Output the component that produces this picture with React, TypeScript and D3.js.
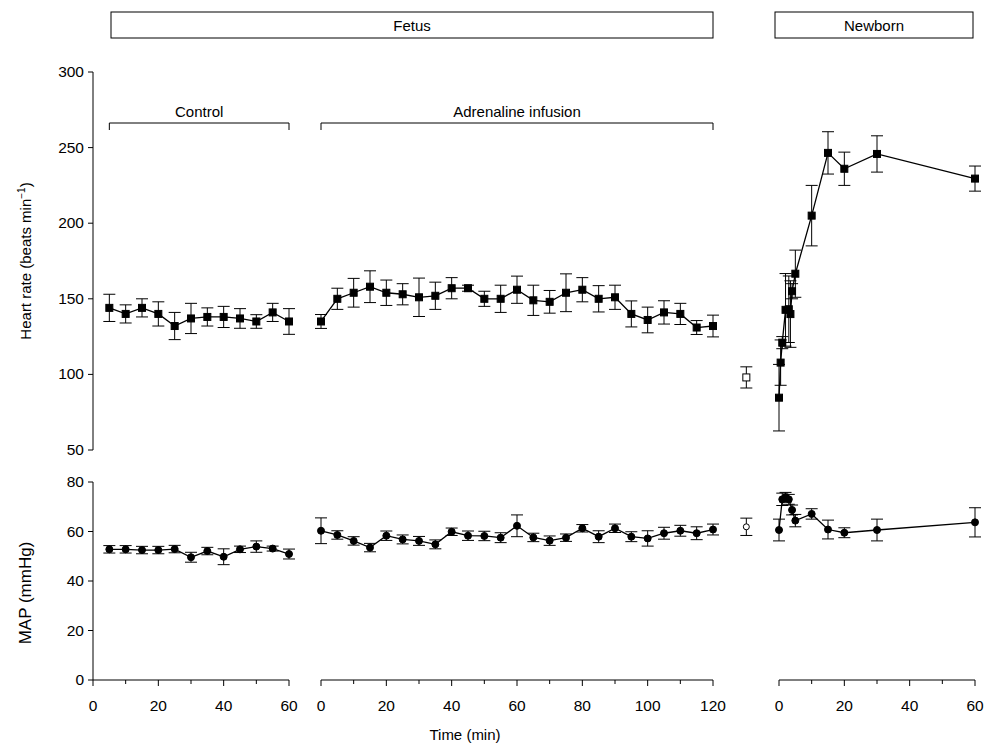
import React from "react";
import { scaleLinear, line } from "d3";

// Fetus: control period (min)
const ctrlTime = [5, 10, 15, 20, 25, 30, 35, 40, 45, 50, 55, 60];
const ctrlHR = [144, 140, 144, 140, 132, 137, 138, 138, 137, 135, 141, 135];
const ctrlHRErr = [9, 6, 6, 8, 9, 10, 6, 7, 6.5, 4.5, 6, 8.5];
const ctrlMAP = [52.8, 52.8, 52.5, 52.5, 52.9, 49.6, 52.1, 49.8, 52.8, 53.9, 53.1, 50.9];
const ctrlMAPErr = [1.5, 1.5, 1.5, 1.5, 1.5, 2, 1.5, 3.2, 1.3, 2.3, 1, 2];

// Fetus: adrenaline infusion
const adrTime = [0, 5, 10, 15, 20, 25, 30, 35, 40, 45, 50, 55, 60, 65, 70, 75, 80, 85, 90, 95, 100, 105, 110, 115, 120];
const adrHR = [135, 150, 154, 158, 154, 153, 151, 152, 157, 157, 150, 150, 156, 149, 148, 154, 156, 150, 151, 140, 136, 141, 140, 131, 132];
const adrHRErr = [4.6, 7, 9.5, 10.5, 8.4, 7, 12.7, 9, 7, 2, 5, 9, 9, 10, 7.5, 12.5, 8, 8.7, 8, 8.6, 8.5, 7.7, 7, 4.6, 7.2];
const adrMAP = [60.3, 58.6, 56.2, 53.5, 58.3, 56.8, 56.2, 54.8, 59.9, 58.3, 58.2, 57.5, 62.3, 57.6, 56.3, 57.5, 61.3, 57.9, 61.3, 57.9, 57.2, 59.3, 60.3, 59.3, 60.8];
const adrMAPErr = [5.2, 1.7, 1.7, 1.7, 1.9, 1.8, 1.8, 1.8, 1.5, 1.9, 1.9, 2, 4.4, 1.7, 1.9, 1.5, 1.5, 2.4, 1.7, 2, 3.1, 2.4, 2.2, 2.6, 2.2];

// Newborn
const preTime = -10;
const preHR = 98;
const preHRErr = 7;
const preMAP = 61.9;
const preMAPErr = 3.5;

const newHRTime = [0, 0.5, 1, 2, 3, 3.5, 4, 5, 10, 15, 20, 30, 60];
const newHR = [84.6, 107.8, 121, 142.7, 143.1, 139.9, 155, 166.6, 205, 246.5, 236, 245.8, 229.5];
const newHRErr = [22, 15, 4, 24, 22, 22, 5, 15.6, 20, 14, 11, 12, 8.3];
const newMAPTime = [0, 1, 2, 3, 4, 5, 10, 15, 20, 30, 60];
const newMAP = [60.6, 73, 73.8, 73, 68.7, 64.4, 67.1, 60.8, 59.5, 60.6, 63.7];
const newMAPErr = [4.4, 2.5, 2, 2, 2, 2.5, 2.1, 3.8, 2, 4.4, 5.9];

const hrTicks = [50, 100, 150, 200, 250, 300];
const mapTicks = [0, 20, 40, 60, 80];

const font = "'Liberation Sans', Arial, sans-serif";

const xCtrl = scaleLinear().domain([0, 60]).range([93, 289]);
const xAdr = scaleLinear().domain([0, 120]).range([321, 713]);
const xNew = scaleLinear().domain([0, 60]).range([779, 975]);
const yHR = scaleLinear().domain([50, 300]).range([450, 72]);
const yMAP = scaleLinear().domain([0, 80]).range([680, 482]);

function Series({ t, v, e, x, y, marker, open = false, connect = true }) {
  const pts = t.map((d, i) => [x(d), y(v[i])]);
  const path = line()(pts);
  return (
    <g>
      {t.map((d, i) => (
        <g key={"e" + i} stroke="#000" strokeWidth={1}>
          <line x1={x(d)} x2={x(d)} y1={y(v[i] + e[i])} y2={y(v[i] - e[i])} />
          <line x1={x(d) - 6} x2={x(d) + 6} y1={y(v[i] + e[i])} y2={y(v[i] + e[i])} />
          <line x1={x(d) - 6} x2={x(d) + 6} y1={y(v[i] - e[i])} y2={y(v[i] - e[i])} />
        </g>
      ))}
      {connect && <path d={path} fill="none" stroke="#000" strokeWidth={1.3} />}
      {pts.map(([px, py], i) =>
        marker === "square" ? (
          <rect key={"m" + i} x={px - 3.5} y={py - 3.5} width={7} height={7}
            fill={open ? "#fff" : "#000"} stroke="#000" strokeWidth={1} />
        ) : (
          <circle key={"m" + i} cx={px} cy={py} r={open ? 3 : 3.5}
            fill={open ? "#fff" : "#000"} stroke="#000" strokeWidth={1} />
        )
      )}
    </g>
  );
}

function XAxis({ x, max, y0 }) {
  const minor = [];
  for (let t = 10; t < max; t += 20) minor.push(t);
  const major = [];
  for (let t = 0; t <= max; t += 20) major.push(t);
  return (
    <g stroke="#000" strokeWidth={1}>
      <line x1={x(0)} x2={x(max)} y1={y0} y2={y0} />
      {major.map((t) => (
        <g key={t}>
          <line x1={x(t)} x2={x(t)} y1={y0} y2={y0 + 6} />
          <text x={x(t)} y={y0 + 31} textAnchor="middle" stroke="none" fill="#000"
            fontSize={15.5} fontFamily={font}>{t}</text>
        </g>
      ))}
      {minor.map((t) => (
        <line key={"m" + t} x1={x(t)} x2={x(t)} y1={y0} y2={y0 + 4} />
      ))}
    </g>
  );
}

function YAxis({ y, ticks, x0 }) {
  return (
    <g stroke="#000" strokeWidth={1}>
      <line x1={x0} x2={x0} y1={y(ticks[0])} y2={y(ticks[ticks.length - 1])} />
      {ticks.map((t) => (
        <g key={t}>
          <line x1={x0 - 5} x2={x0} y1={y(t)} y2={y(t)} />
          <text x={x0 - 9} y={y(t) + 5} textAnchor="end" stroke="none" fill="#000"
            fontSize={15.5} fontFamily={font}>{t}</text>
        </g>
      ))}
    </g>
  );
}

function Bracket({ x1, x2, label }) {
  return (
    <g>
      <path d={`M${x1},130V123H${x2}V130`} fill="none" stroke="#000" strokeWidth={1} />
      <text x={(x1 + x2) / 2} y={117} textAnchor="middle" fontSize={15} fontFamily={font}>{label}</text>
    </g>
  );
}

export default function App() {
  const mapY0 = yMAP(0);
  return (
    <svg width={984} height={746} style={{ position: "absolute", left: 0, top: 0, background: "#fff" }}>
      {/* header boxes */}
      <rect x={111} y={12} width={602} height={26} fill="none" stroke="#000" />
      <text x={412} y={31} textAnchor="middle" fontSize={15} fontFamily={font}>Fetus</text>
      <rect x={775} y={12} width={198} height={26} fill="none" stroke="#000" />
      <text x={874} y={31} textAnchor="middle" fontSize={15} fontFamily={font}>Newborn</text>

      <Bracket x1={xCtrl(5)} x2={xCtrl(60)} label="Control" />
      <Bracket x1={xAdr(0)} x2={xAdr(120)} label="Adrenaline infusion" />

      <YAxis y={yHR} ticks={hrTicks} x0={93} />
      <YAxis y={yMAP} ticks={mapTicks} x0={93} />

      <XAxis x={xCtrl} max={60} y0={mapY0} />
      <XAxis x={xAdr} max={120} y0={mapY0} />
      <XAxis x={xNew} max={60} y0={mapY0} />

      <text transform={`translate(31,${(yHR(50) + yHR(300)) / 2}) rotate(-90)`} textAnchor="middle"
        fontSize={15} fontFamily={font}>
        Heart rate (beats min<tspan dy={-6} fontSize={10}>−1</tspan><tspan dy={6}>)</tspan>
      </text>
      <text transform={`translate(31,${(yMAP(0) + yMAP(80)) / 2 + 12}) rotate(-90)`} textAnchor="middle"
        fontSize={17} fontFamily={font}>MAP (mmHg)</text>
      <text x={465} y={740} textAnchor="middle" fontSize={15} fontFamily={font}>Time (min)</text>

      {/* heart rate */}
      <Series t={ctrlTime} v={ctrlHR} e={ctrlHRErr} x={xCtrl} y={yHR} marker="square" />
      <Series t={adrTime} v={adrHR} e={adrHRErr} x={xAdr} y={yHR} marker="square" />
      <Series t={[preTime]} v={[preHR]} e={[preHRErr]} x={xNew} y={yHR} marker="square" open connect={false} />
      <Series t={newHRTime} v={newHR} e={newHRErr} x={xNew} y={yHR} marker="square" />

      {/* MAP */}
      <Series t={ctrlTime} v={ctrlMAP} e={ctrlMAPErr} x={xCtrl} y={yMAP} marker="circle" />
      <Series t={adrTime} v={adrMAP} e={adrMAPErr} x={xAdr} y={yMAP} marker="circle" />
      <Series t={[preTime]} v={[preMAP]} e={[preMAPErr]} x={xNew} y={yMAP} marker="circle" open connect={false} />
      <Series t={newMAPTime} v={newMAP} e={newMAPErr} x={xNew} y={yMAP} marker="circle" />
    </svg>
  );
}
